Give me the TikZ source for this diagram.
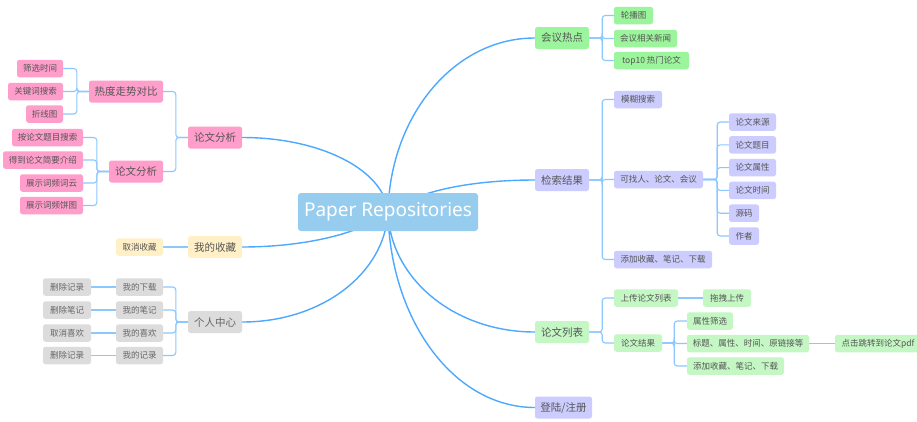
\documentclass[tikz,border=0pt]{standalone}
\usepackage{fontspec}
\setmainfont{Noto Sans}
\newfontfamily\cjk{Noto Sans CJK SC}
\usetikzlibrary{backgrounds,calc}

\definecolor{rootc}{HTML}{96CDEE}
\definecolor{pinkc}{HTML}{FF9DCB}
\definecolor{greenc}{HTML}{9CF59C}
\definecolor{lgreenc}{HTML}{C4F7C4}
\definecolor{lavc}{HTML}{CCCCFF}
\definecolor{yelc}{HTML}{FFF0C8}
\definecolor{grayc}{HTML}{DCDCDC}
\definecolor{txtc}{HTML}{555555}
\definecolor{trunkc}{HTML}{4DA8FF}
\definecolor{twigc}{HTML}{8CC8FF}

\tikzset{
  box/.style={rectangle, rounded corners=2.5pt, inner xsep=0pt, inner ysep=0pt,
    minimum height=17.5pt, text=txtc, font=\cjk\fontsize{8.5}{10}\selectfont},
  big/.style={box, minimum height=22pt, font=\cjk\fontsize{10.5}{12}\selectfont},
  w/.style={minimum width=#1pt},
  pinkb/.style={fill=pinkc},
  greenb/.style={fill=greenc},
  lgreenb/.style={fill=lgreenc},
  lavb/.style={fill=lavc},
  yelb/.style={fill=yelc},
  grayb/.style={fill=grayc, text=black!60},
  trunk/.style={draw=trunkc, line width=1.4pt},
  twig/.style={draw=twigc, line width=1.1pt, rounded corners=3pt},
}

\begin{document}
\begin{tikzpicture}[x=1pt, y=-1pt]
\useasboundingbox (0,0) rectangle (917,421);

% central topic
\node[rectangle, rounded corners=3pt, fill=rootc, minimum width=180pt, minimum height=38pt,
  text=white, font=\fontsize{19}{22}\selectfont] (root) at (388,212) {Paper Repositories};

% ---------- right side ----------
\node[big,greenb,w=54] (hot) at (562,38) {会议热点};
\node[box,greenb,w=39] (hot1) at (633.5,15.5) {轮播图};
\node[box,greenb,w=63] (hot2) at (645.5,38.5) {会议相关新闻};
\node[box,greenb,w=75] (hot3) at (651.5,60.5) {top10 热门论文};

\node[big,lavb,w=54] (srch) at (562,180) {检索结果};
\node[box,lavb,w=48] (s1) at (638,99.5) {模糊搜索};
\node[box,lavb,w=89] (s2) at (658.5,179.5) {可找人、论文、会议};
\node[box,lavb,w=98] (s3) at (663,259.5) {添加收藏、笔记、下载};
\node[box,lavb,w=47] (f1) at (752.5,122) {论文来源};
\node[box,lavb,w=47] (f2) at (752.5,144.8) {论文题目};
\node[box,lavb,w=47] (f3) at (752.5,167.6) {论文属性};
\node[box,lavb,w=47] (f4) at (752.5,190.4) {论文时间};
\node[box,lavb,w=30] (f5) at (744,213.2) {源码};
\node[box,lavb,w=30] (f6) at (744,236) {作者};

\node[big,lgreenb,w=54] (list) at (562,332) {论文列表};
\node[box,lgreenb,w=64] (up) at (646,298) {上传论文列表};
\node[box,lgreenb,w=48] (drag) at (727,298) {拖拽上传};
\node[box,lgreenb,w=48] (res) at (638,343) {论文结果};
\node[box,lgreenb,w=46] (r1) at (710,321) {属性筛选};
\node[box,lgreenb,w=122] (r2) at (748,343.5) {标题、属性、时间、原链接等};
\node[box,lgreenb,w=97] (r3) at (735.5,366) {添加收藏、笔记、下载};
\node[box,lgreenb,w=86] (pdf) at (878,343.5) {点击跳转到论文pdf};

\node[big,lavb,w=57] (login) at (563.5,407.5) {登陆/注册};

% ---------- left side ----------
\node[big,pinkb,w=54] (ana) at (215,137.5) {论文分析};
\node[big,pinkb,w=74] (heat) at (126,91.5) {热度走势对比};
\node[big,pinkb,w=54] (ana2) at (136,171.5) {论文分析};
\node[box,pinkb,w=46] (h1) at (40,68.5) {筛选时间};
\node[box,pinkb,w=55] (h2) at (35.5,91.5) {关键词搜索};
\node[box,pinkb,w=37] (h3) at (44.5,114) {折线图};
\node[box,pinkb,w=71] (a1) at (47.5,137.5) {按论文题目搜索};
\node[box,pinkb,w=80] (a2) at (43,160) {得到论文简要介绍};
\node[box,pinkb,w=63] (a3) at (51.5,183) {展示词频词云};
\node[box,pinkb,w=63] (a4) at (51.5,205.5) {展示词频饼图};

\node[big,yelb,w=54] (fav) at (215,247) {我的收藏};
\node[box,yelb,w=47] (unfav) at (139.5,247) {取消收藏};

\node[big,grayb,w=54] (me) at (215,322) {个人中心};
\node[box,grayb,w=47] (m1) at (139.5,287) {我的下载};
\node[box,grayb,w=47] (m2) at (139.5,310) {我的笔记};
\node[box,grayb,w=47] (m3) at (139.5,333) {我的喜欢};
\node[box,grayb,w=47] (m4) at (139.5,355.5) {我的记录};
\node[box,grayb,w=48] (d1) at (67,287) {删除记录};
\node[box,grayb,w=48] (d2) at (67,310) {删除笔记};
\node[box,grayb,w=48] (d3) at (67,333) {取消喜欢};
\node[box,grayb,w=48] (d4) at (67,355.5) {删除记录};

\begin{scope}[on background layer]
  \fill[white] (0,0) rectangle (917,421);

  % main branches
  \draw[trunk] (root.center) .. controls +(2,-96) and +(-81,0) .. (hot.west);
  \draw[trunk] (root.center) .. controls +(35,-25) and +(-50,0) .. (srch.west);
  \draw[trunk] (root.center) .. controls +(2,66) and +(-81,0) .. (list.west);
  \draw[trunk] (root.center) .. controls +(2,108) and +(-81,0) .. (login.west);
  \draw[trunk] (root.center) .. controls +(-3,-41) and +(80,0) .. (ana.east);
  \draw[trunk] (root.center) .. controls +(-28,23) and +(58,0) .. (fav.east);
  \draw[trunk] (root.center) .. controls +(-3,61) and +(80,0) .. (me.east);

  % right sub-branches
  \foreach \c in {hot1,hot2,hot3}
    \draw[twig] (\c.west) -| ($(hot.east)+(13,0)$) -- (hot.east);
  \foreach \c in {s1,s2,s3}
    \draw[twig] (\c.west) -| ($(srch.east)+(13,0)$) -- (srch.east);
  \foreach \c in {f1,f2,f3,f4,f5,f6}
    \draw[twig] (\c.west) -| ($(s2.east)+(14,0)$) -- (s2.east);
  \foreach \c in {up,res}
    \draw[twig] (\c.west) -| ($(list.east)+(13,0)$) -- (list.east);
  \draw[twig] (up.east) -- (drag.west);
  \foreach \c in {r1,r2,r3}
    \draw[twig] (\c.west) -| ($(res.east)+(12,0)$) -- (res.east);
  \draw[twig] (r2.east) -- (pdf.west);

  % left sub-branches
  \foreach \c in {heat,ana2}
    \draw[twig] (\c.east) -| ($(ana.west)+(-12,0)$) -- (ana.west);
  \foreach \c in {h1,h2,h3}
    \draw[twig] (\c.east) -| ($(heat.west)+(-12,0)$) -- (heat.west);
  \foreach \c in {a1,a2,a3,a4}
    \draw[twig] (\c.east) -| ($(ana2.west)+(-12,0)$) -- (ana2.west);
  \draw[twig] (unfav.east) -- (fav.west);
  \foreach \c in {m1,m2,m3,m4}
    \draw[twig] (\c.east) -| ($(me.west)+(-12,0)$) -- (me.west);
  \draw[twig] (d1.east) -- (m1.west);
  \draw[twig] (d2.east) -- (m2.west);
  \draw[twig] (d3.east) -- (m3.west);
  \draw[twig] (d4.east) -- (m4.west);
\end{scope}
\end{tikzpicture}
\end{document}
